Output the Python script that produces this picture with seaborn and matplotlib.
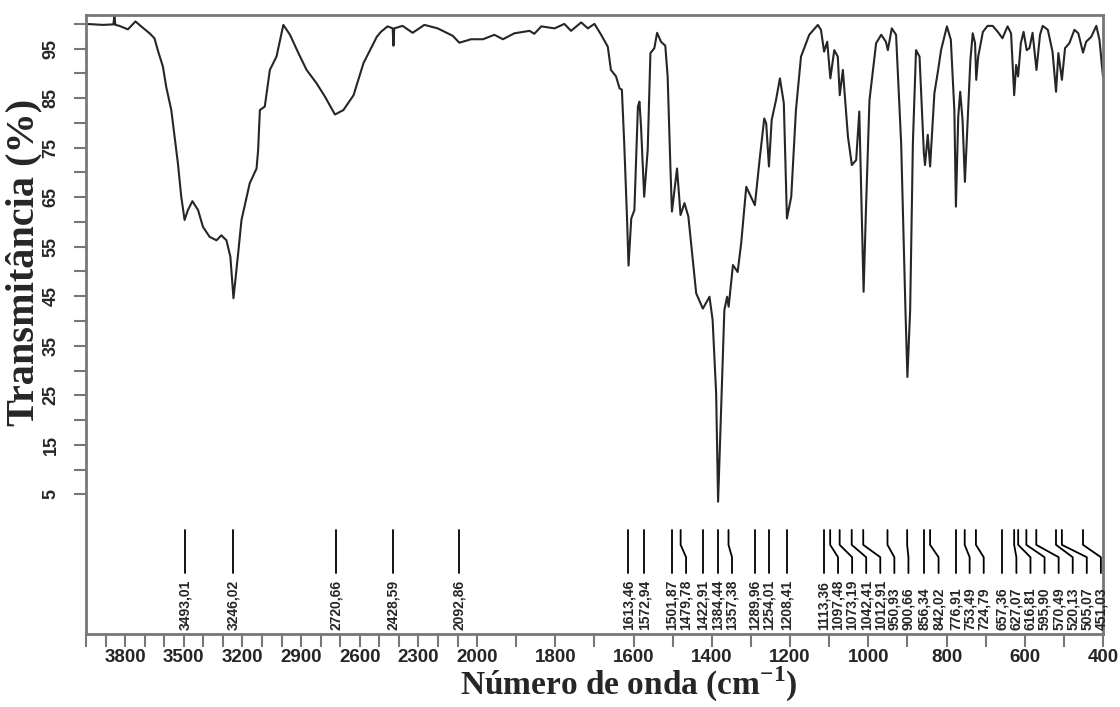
import numpy as np
import pandas as pd
import seaborn as sns
import matplotlib.pyplot as plt

# IR spectrum (wavenumber in cm-1, transmittance in %)
wavenumber = [4000, 3914, 3860, 3855, 3850, 3829, 3786, 3747, 3718, 3675, 3650, 3633, 3607, 3590,
              3564, 3547, 3530, 3513, 3496, 3479, 3456, 3427, 3402, 3368, 3333, 3308, 3282, 3262,
              3246, 3222, 3205, 3163, 3128, 3120, 3111, 3086, 3060, 3026, 2991, 2957, 2914, 2872,
              2821, 2778, 2727, 2684, 2632, 2581, 2513, 2492, 2458, 2432, 2428, 2424, 2381, 2330,
              2270, 2202, 2125, 2091, 2031, 1985, 1956, 1934, 1905, 1866, 1854, 1836, 1802, 1777,
              1760, 1734, 1717, 1700, 1683, 1666, 1658, 1645, 1636, 1630, 1624, 1617, 1613, 1606,
              1598, 1589, 1585, 1581, 1573, 1564, 1557, 1547, 1540, 1530, 1519, 1513, 1506, 1502,
              1489, 1480, 1470, 1460, 1453, 1440, 1423, 1406, 1398, 1389, 1384, 1375, 1368, 1361,
              1357, 1346, 1334, 1325, 1312, 1300, 1290, 1278, 1266, 1261, 1254, 1247, 1236, 1226,
              1216, 1208, 1197, 1185, 1172, 1151, 1129, 1121, 1113, 1105, 1097, 1087, 1078, 1073,
              1065, 1052, 1042, 1031, 1023, 1017, 1012, 1006, 997, 980, 967, 955, 950, 940, 929,
              916, 905, 900, 893, 886, 878, 869, 858, 855, 848, 842, 831, 822, 814, 799, 789, 780,
              776, 770, 765, 759, 753, 746, 739, 733, 727, 724, 719, 707, 695, 682, 669, 657, 644,
              635, 627, 622, 617, 610, 603, 595, 588, 580, 570, 561, 554, 541, 529, 520, 514, 505,
              497, 486, 473, 463, 451, 443, 430, 417, 409, 400]
transmittance = [100.0, 99.8, 99.9, 101.6, 99.8, 99.6, 98.9, 100.5, 99.5, 98.1, 97.1, 94.7, 91.4, 87.3,
                 82.6, 77.2, 71.8, 65.1, 60.4, 62.4, 64.2, 62.4, 59.0, 57.0, 56.3, 57.3, 56.3, 53.0,
                 44.6, 53.7, 60.4, 67.8, 70.8, 74.5, 82.6, 83.3, 90.7, 93.4, 99.8, 97.8, 94.1, 90.7,
                 88.0, 85.3, 81.7, 82.6, 85.6, 92.1, 97.4, 98.4, 99.5, 99.1, 95.6, 99.1, 99.6, 98.2,
                 99.8, 99.1, 97.6, 96.2, 96.9, 96.9, 97.8, 96.9, 98.1, 98.6, 98.0, 99.5, 99.1, 100.0,
                 98.6, 100.3, 99.1, 100.0, 97.8, 95.4, 90.7, 89.4, 87.0, 86.7, 75.9, 61.1, 51.2, 60.7,
                 62.4, 83.3, 84.3, 79.2, 65.1, 74.5, 94.1, 95.1, 98.2, 96.4, 95.6, 89.4, 71.2, 62.1,
                 70.8, 61.4, 63.8, 61.1, 55.7, 45.6, 42.5, 44.9, 40.2, 25.4, 3.5, 25.4, 42.2, 44.9,
                 42.9, 51.3, 49.9, 55.7, 67.1, 65.1, 63.4, 72.5, 80.9, 79.9, 71.2, 80.6, 84.6, 89.0,
                 84.0, 60.7, 65.1, 82.6, 93.4, 97.8, 99.8, 98.8, 94.4, 96.4, 89.0, 94.7, 93.4, 85.6,
                 90.7, 77.2, 71.5, 72.5, 82.3, 62.4, 45.9, 62.4, 84.6, 96.1, 97.8, 96.4, 94.7, 99.1, 97.8,
                 75.9, 42.2, 28.7, 42.2, 75.9, 94.7, 93.4, 74.0, 71.5, 77.6, 71.2, 86.0, 90.4, 94.7, 99.5, 96.8, 82.6,
                 63.1, 81.3, 86.3, 80.6, 68.1, 80.6, 92.7, 98.1, 96.1, 88.7, 93.4, 98.4, 99.6, 99.6, 98.4, 97.1, 99.5,
                 98.1, 85.6, 91.7, 89.4, 96.1, 98.4, 94.7, 95.1, 98.2, 90.7, 97.8, 99.6, 98.8, 94.4, 86.3, 94.1, 88.7,
                 95.1, 96.1, 98.8, 98.1, 94.2, 96.4, 97.4, 99.6, 96.8, 89.4]

# labelled peak positions
peaks = [3493.01, 3246.02, 2720.66, 2428.59, 2092.86, 1613.46, 1572.94, 1501.87, 1479.78,
         1422.91, 1384.44, 1357.38, 1289.96, 1254.01, 1208.41, 1113.36, 1097.48, 1073.19,
         1042.41, 1012.91, 950.93, 900.66, 856.34, 842.02, 776.91, 753.49, 724.79, 657.36,
         627.07, 616.81, 595.90, 570.49, 520.13, 505.07, 451.03]

x_labels = [3800, 3500, 3200, 2900, 2600, 2300, 2000, 1800, 1600, 1400, 1200, 1000, 800, 600, 400]
y_labels = [5, 15, 25, 35, 45, 55, 65, 75, 85, 95]

df = pd.DataFrame({'wn': wavenumber, 'T': transmittance})


# x axis is compressed 2x above 2000 cm-1
def fwd(x):
    x = np.asarray(x, dtype=float)
    return np.where(x > 2000, 2000 + (x - 2000) / 2, x)


def inv(y):
    y = np.asarray(y, dtype=float)
    return np.where(y > 2000, 2000 + (y - 2000) * 2, y)


sns.set_style('white')
plt.rcParams['font.family'] = ['Liberation Sans', 'DejaVu Sans']

fig = plt.figure(figsize=(11.2, 7.07), dpi=100)
ax = fig.add_axes([0.0768, 0.1033, 0.908, 0.8755])

sns.lineplot(data=df, x='wn', y='T', estimator=None, sort=False, color='#262626', lw=1.5, ax=ax)

ax.set_xscale('function', functions=(fwd, inv))
ax.set_xlim(4000, 400)
ax.set_ylim(-23.2, 101.8)

# peak markers, spread so the labels don't overlap
gap = 36
pos = []
for v in fwd(peaks):
    if pos and v > pos[-1] - gap:
        v = pos[-1] - gap
    pos.append(float(v))
label_x = inv(pos)

for p, lx in zip(peaks, label_x):
    if abs(lx - p) < 0.5:
        ax.plot([p, p], [-2.2, -10.9], color='black', lw=1.3)
    else:
        ax.plot([p, p, lx, lx], [-2.2, -5.2, -7.7, -10.9], color='black', lw=1.3)
    ax.text(lx, -22.3, f"{p:.2f}".replace('.', ','), rotation=90, ha='center', va='bottom',
            fontsize=10, fontweight='bold')

# ticks
ax.set_xticks(x_labels)
ax.set_xticklabels([str(v) for v in x_labels], fontsize=13.5, fontweight='bold')
ax.set_xticks([v for v in range(400, 4001, 100) if v not in x_labels], minor=True)
ax.set_yticks(y_labels)
ax.set_yticklabels([str(v) for v in y_labels], fontsize=13, fontweight='bold', rotation=90, va='center')
ax.set_yticks(list(range(10, 101, 10)), minor=True)
ax.tick_params(which='both', direction='out', length=9, width=1.5, color='#777777',
               bottom=True, left=True, top=False, right=False)
ax.tick_params(axis='x', which='major', pad=2)
ax.tick_params(axis='y', which='major', pad=10)

for s in ax.spines.values():
    s.set_color('#777777')
    s.set_linewidth(2)

ax.set_xlabel('Número de onda (cm$^{\\mathregular{-1}}$)', family='Liberation Serif', fontsize=24,
              fontweight='bold')
ax.xaxis.set_label_coords(0.534, -0.05)
ax.set_ylabel('Transmitância (%)', family='Liberation Serif', fontsize=29, fontweight='bold')
ax.yaxis.set_label_coords(-0.043, 0.6)

fig.savefig('out.png', dpi=100)
